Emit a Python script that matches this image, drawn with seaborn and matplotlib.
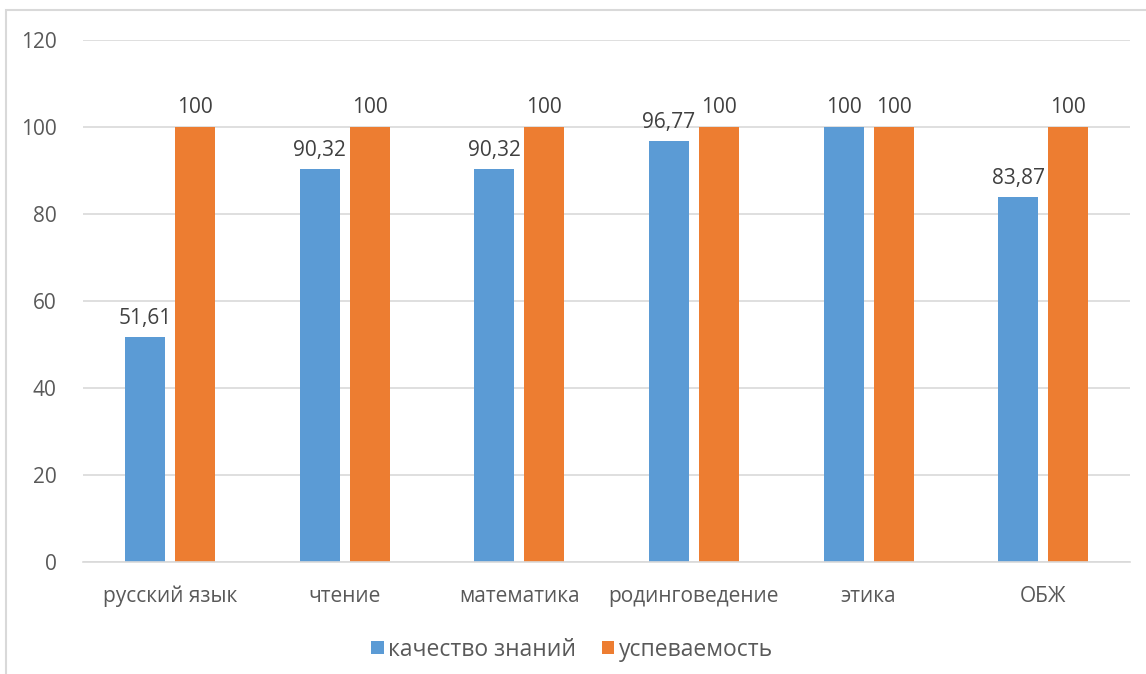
import pandas as pd
import seaborn as sns
import matplotlib.pyplot as plt
from matplotlib.patches import Rectangle

# chart data
subjects = ['русский язык', 'чтение', 'математика', 'родинговедение', 'этика', 'ОБЖ']
quality = [51.61, 90.32, 90.32, 96.77, 100, 83.87]
progress = [100, 100, 100, 100, 100, 100]
series_names = ['качество знаний', 'успеваемость']
colors = ['#5B9BD5', '#ED7D31']

df = pd.DataFrame({
    'subject': subjects * 2,
    'value': quality + progress,
    'series': [series_names[0]] * len(subjects) + [series_names[1]] * len(subjects),
})

sns.set_style('white')
plt.rcParams['font.family'] = ['Open Sans', 'DejaVu Sans']
txt = '#595959'
fs = 15

fig = plt.figure(figsize=(11.46, 6.74), dpi=100)
ax = fig.add_axes([0.0724, 0.166, 0.914, 0.775])

sns.barplot(data=df, x='subject', y='value', hue='series', palette=colors,
            width=0.573, gap=0.2, ax=ax, saturation=1, legend=True, linewidth=0)

# value labels
for cont in ax.containers:
    labels = [f'{v:g}'.replace('.', ',') for v in cont.datavalues]
    ax.bar_label(cont, labels=labels, padding=6, fontsize=fs, color='#404040')

ax.set_ylim(0, 120)
ax.set_yticks(range(0, 121, 20))
ax.set_xlim(-0.5, len(subjects) - 0.5)
ax.yaxis.grid(True, color='#d9d9d9', linewidth=1.2)
ax.set_axisbelow(True)
for s in ['top', 'right', 'left']:
    ax.spines[s].set_visible(False)
ax.spines['bottom'].set_color('#d9d9d9')
ax.spines['bottom'].set_linewidth(1.2)
ax.tick_params(axis='both', length=0, labelsize=fs, labelcolor=txt)
ax.tick_params(axis='y', pad=19)
ax.tick_params(axis='x', pad=17)
ax.set_xlabel('')
ax.set_ylabel('')

leg = ax.legend(loc='upper center', bbox_to_anchor=(0.467, -0.105), ncol=2, frameon=False,
                fontsize=16.5, handlelength=0.55, handleheight=0.55, handletextpad=0.2,
                columnspacing=1.1)
for t in leg.get_texts():
    t.set_color(txt)

# outer chart border
fig.patches.append(Rectangle((6 / 1146, -0.05), 1.2, 1 - 10 / 674 + 0.05,
                             transform=fig.transFigure, fill=False,
                             edgecolor='#d9d9d9', linewidth=1.5))

fig.savefig('out.png', dpi=100)
